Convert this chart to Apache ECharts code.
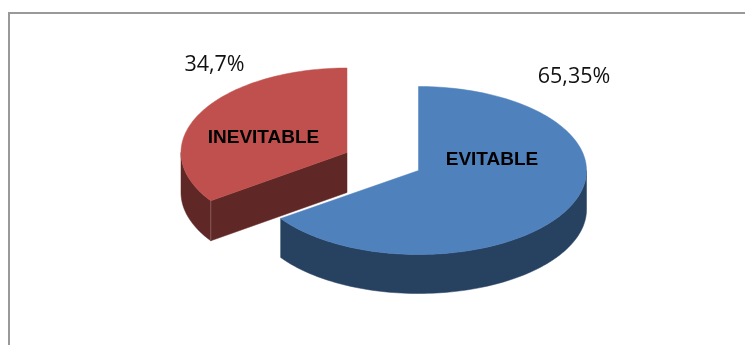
<!DOCTYPE html>
<html><head><meta charset="utf-8">
<style>html,body{margin:0;padding:0;background:#fff}#c{width:745px;height:345px}</style>
<script src="https://cdn.jsdelivr.net/npm/echarts@6/dist/echarts.min.js"></script>
</head><body><div id="c"></div>
<script>
const categories = ['EVITABLE', 'INEVITABLE'];
const values = [65.35, 34.7];
const valueLabels = ['65,35%', '34,7%'];

const layout = [
  {cx: 418.5, cy: 170.5, rx: 168, ry: 84, depth: 39, top: '#4F81BD', side: '#274161',
   name: [492, 160], pct: [574, 77]},
  {cx: 347, cy: 152.5, rx: 166, ry: 84.5, depth: 40, top: '#C0504D', side: '#5F2725',
   name: [263.5, 137.5], pct: [214.5, 64.5]}
];
const total = values.reduce((a, b) => a + b, 0);

function pt(g, deg, dy) {
  const t = deg * Math.PI / 180;
  return [g.cx + g.rx * Math.sin(t), g.cy - g.ry * Math.cos(t) + (dy || 0)];
}
function arc(g, a, b, dy) {
  const out = [], n = Math.max(2, Math.ceil(Math.abs(b - a) / 1.5));
  for (let i = 0; i <= n; i++) out.push(pt(g, a + (b - a) * i / n, dy));
  return out;
}
const poly = (points, fill, stroke) => ({
  type: 'polygon', shape: {points},
  style: {fill, stroke: stroke || fill, lineWidth: 0.5}
});

function renderItem(params, api) {
  const i = params.dataIndex;
  const g = layout[i];
  let start = 0;
  for (let k = 0; k < i; k++) start += values[k] / total * 360;
  const end = start + api.value(0) / total * 360;
  const c = [g.cx, g.cy], children = [];

  // cut face looking towards the viewer (second slice only)
  if (i === 1) {
    const p = pt(g, start);
    children.push(poly([p, c, [g.cx, g.cy + g.depth], pt(g, start, g.depth)], g.side));
  }
  // outer wall: front half of the ellipse only (90..270 degrees)
  const a = Math.max(start, 90), b = Math.min(end, 270);
  if (b > a) {
    children.push(poly(arc(g, a, b, 0).concat(arc(g, b, a, g.depth)), g.side));
  }
  if (i === 1) {
    const p = pt(g, start);
    children.push({type: 'line', shape: {x1: p[0], y1: p[1], x2: p[0], y2: p[1] + g.depth},
      style: {stroke: '#8A5A58', lineWidth: 1}});
  }
  // top face
  children.push(poly([c].concat(arc(g, start, end, 0)), g.top));
  // category name
  children.push({type: 'text', style: {
    x: g.name[0], y: g.name[1], text: categories[i], fill: '#000',
    font: 'bold 19px "Liberation Sans"', align: 'center', verticalAlign: 'middle'
  }});
  children.push({type: 'text', style: {
    x: g.pct[0], y: g.pct[1], text: valueLabels[i], fill: '#111',
    font: '21.5px "Open Sans"', align: 'center', verticalAlign: 'middle'
  }});
  return {type: 'group', children};
}

const chart = echarts.init(document.getElementById('c'), null, {renderer: 'canvas'});
chart.setOption({
  animation: false,
  backgroundColor: '#fff',
  graphic: [
    {type: 'line', silent: true, shape: {x1: 8, y1: 13, x2: 745, y2: 13}, style: {stroke: '#999', lineWidth: 2}},
    {type: 'line', silent: true, shape: {x1: 9, y1: 12, x2: 9, y2: 345}, style: {stroke: '#999', lineWidth: 2}}
  ],
  series: [{
    type: 'custom', coordinateSystem: 'none', silent: true,
    encode: {value: 0},
    data: values.map(v => [v]),
    renderItem
  }]
});
</script></body></html>
